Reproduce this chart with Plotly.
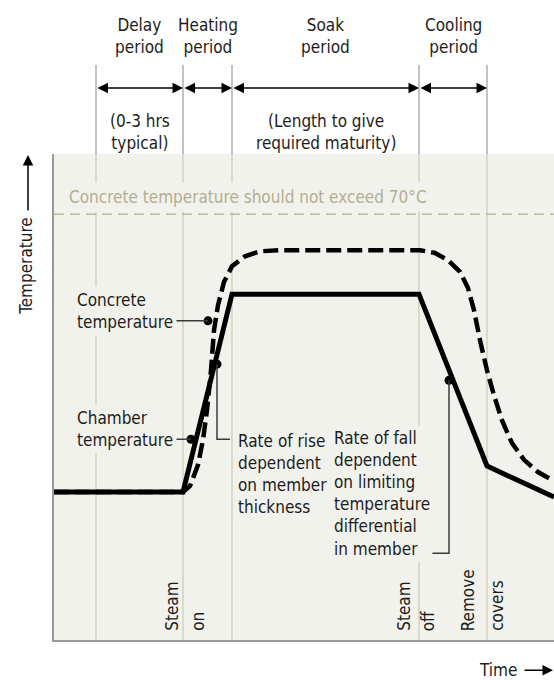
import plotly.graph_objects as go

# ---- data (time in arbitrary units, temperature in degC) ----
chamber_t = [0, 12.9, 17.8, 36.5, 43.3, 50]
chamber_T = [20, 20, 55.6, 55.6, 24.7, 19.1]

concrete_t = [0, 12.9, 13.6, 14.4, 14.9, 15.3, 15.7, 16.0, 16.4, 17.0, 17.8, 19.1, 20.6, 22.6,
              36.6, 38.1, 39.4, 40.6, 41.4, 42.0, 42.6, 43.3, 44.0, 44.8, 45.8, 47.0, 48.4, 50]
concrete_T = [20, 20, 21.1, 24.9, 29.4, 34.7, 41.9, 49.1, 53.6, 57.8, 60.6, 62.4, 63.3, 63.5,
              63.5, 63.0, 61.7, 59.6, 56.7, 52.7, 47.3, 41.9, 37.4, 32.9, 28.8, 25.8, 23.6, 22.0]

# period boundaries: start of delay, steam on, end of heating, steam off, remove covers
boundaries = [4.2, 12.9, 17.8, 36.5, 43.3]
period_names = ["Delay<br>period", "Heating<br>period", "Soak<br>period", "Cooling<br>period"]
period_notes = ["(0-3 hrs<br>typical)", "", "(Length to give<br>required maturity)", ""]

limit_T = 70
limit_label = "Concrete temperature should not exceed 70°C"

# callout points on the curves
callout_t = [15.4, 13.7, 16.3, 39.5]
callout_T = [50.8, 29.5, 43.0, 40.1]

FONT = "Liberation Sans Narrow, DejaVu Sans Condensed, Arial Narrow, sans-serif"
TXT = "#1c1c1c"
PANEL = "#f2f2ed"
GRID = "#cdc9b0"
TAN = "#b3ae92"
X0, X1 = 0, 50
Y0, Y1 = -6.6, 80.8

fig = go.Figure()

fig.add_trace(go.Scatter(x=concrete_t, y=concrete_T, mode="lines",
                         line=dict(color="black", width=4.5, dash="15px,6px"),
                         hoverinfo="skip", showlegend=False))
fig.add_trace(go.Scatter(x=chamber_t, y=chamber_T, mode="lines",
                         line=dict(color="black", width=5),
                         hoverinfo="skip", showlegend=False))

shapes = []
# vertical period lines inside the panel and above it
for b in boundaries:
    shapes.append(dict(type="line", xref="x", yref="paper", x0=b, x1=b, y0=0, y1=1,
                       line=dict(color=GRID, width=1.2), layer="below"))
    shapes.append(dict(type="line", xref="x", yref="paper", x0=b, x1=b, y0=1.0, y1=1.183,
                       line=dict(color="#9a9a9a", width=1.2)))
# temperature limit
shapes.append(dict(type="line", xref="x", yref="y", x0=X0, x1=X1, y0=limit_T, y1=limit_T,
                   line=dict(color=TAN, width=1.2, dash="10px,6px"), layer="below"))
# leader lines
LEAD = dict(color="#3a3a3a", width=1.5)
shapes.append(dict(type="line", xref="x", yref="y", x0=11.8, x1=callout_t[0], y0=callout_T[0], y1=callout_T[0], line=LEAD))
shapes.append(dict(type="line", xref="x", yref="y", x0=11.8, x1=callout_t[1], y0=callout_T[1], y1=callout_T[1], line=LEAD))
shapes.append(dict(type="path", xref="x", yref="y",
                   path=f"M{callout_t[2]},{callout_T[2]} L{callout_t[2]},29.5 L17.6,29.5", line=LEAD))
shapes.append(dict(type="path", xref="x", yref="y",
                   path=f"M{callout_t[3]},{callout_T[3]} L{callout_t[3]},9.0 L37.1,9.0", line=LEAD))

fig.add_trace(go.Scatter(x=callout_t, y=callout_T, mode="markers",
                         marker=dict(color="black", size=9), hoverinfo="skip", showlegend=False))

ann = []
font = dict(family=FONT, size=17, color=TXT)

# header: period names, double arrows and notes
for i, name in enumerate(period_names):
    xc = (boundaries[i] + boundaries[i + 1]) / 2
    ann.append(dict(text=name, x=xc, y=1.2418, xref="x", yref="paper", showarrow=False,
                    font=font, xanchor="center", yanchor="middle"))
    ann.append(dict(text="", x=boundaries[i + 1], y=1.136, xref="x", yref="paper",
                    ax=boundaries[i], ay=0, axref="x", ayref="pixel", showarrow=True,
                    arrowhead=2, arrowsize=1.4, arrowwidth=1.5, arrowside="end+start",
                    arrowcolor="black", standoff=0, startstandoff=0))
    if period_notes[i]:
        ann.append(dict(text=period_notes[i], x=xc, y=1.045, xref="x", yref="paper",
                        showarrow=False, font=font, xanchor="center", yanchor="middle"))

# limit label
ann.append(dict(text=limit_label, x=1.0, y=73.1, xref="x", yref="y", showarrow=False,
                font=dict(family=FONT, size=17, color=TAN), xanchor="left", yanchor="middle",
                bgcolor=PANEL, borderpad=4))

# curve labels
ann.append(dict(text="Concrete<br>temperature", x=1.9, y=52.6, xref="x", yref="y", showarrow=False,
                font=font, xanchor="left", yanchor="middle", align="left", bgcolor=PANEL, borderpad=3))
ann.append(dict(text="Chamber<br>temperature", x=1.9, y=31.3, xref="x", yref="y", showarrow=False,
                font=font, xanchor="left", yanchor="middle", align="left", bgcolor=PANEL, borderpad=3))
ann.append(dict(text="Rate of rise<br>dependent<br>on member<br>thickness", x=18.2, y=31.3,
                xref="x", yref="y", showarrow=False, font=font, xanchor="left", yanchor="top",
                align="left", bgcolor=PANEL, borderpad=1))
ann.append(dict(text="Rate of fall<br>dependent<br>on limiting<br>temperature<br>differential<br>in member",
                x=27.7, y=32.0, xref="x", yref="y", showarrow=False, font=font, xanchor="left",
                yanchor="top", align="left", bgcolor=PANEL, borderpad=2))

# event labels along the time axis
for word, xt in [("Steam", 11.8), ("on", 14.4), ("Steam", 35.0), ("off", 37.4),
                 ("Remove", 41.4), ("covers", 44.3)]:
    ann.append(dict(text=word, x=xt, y=-5.4, xref="x", yref="y", showarrow=False, font=font,
                    textangle=-90, xanchor="center", yanchor="bottom"))

# axis titles with arrows
ann.append(dict(text="Temperature", x=-0.056, y=0.770, xref="paper", yref="paper", showarrow=False,
                font=font, textangle=-90, xanchor="center", yanchor="middle"))
ann.append(dict(text="", x=-0.052, y=0.998, xref="paper", yref="paper", ax=0, ay=57,
                axref="pixel", ayref="pixel", showarrow=True, arrowhead=2, arrowsize=1.4,
                arrowwidth=1.5, arrowcolor="black", standoff=0))
ann.append(dict(text="Time", x=0.888, y=-0.062, xref="paper", yref="paper", showarrow=False,
                font=font, xanchor="center", yanchor="middle"))
ann.append(dict(text="", x=1.0, y=-0.062, xref="paper", yref="paper", ax=-31, ay=0,
                axref="pixel", ayref="pixel", showarrow=True, arrowhead=2, arrowsize=1.4,
                arrowwidth=1.5, arrowcolor="black", standoff=0))

axis_common = dict(showgrid=False, zeroline=False, showticklabels=False, ticks="",
                   showline=True, linecolor="#9a9a9a", linewidth=1.5, fixedrange=True)
fig.update_layout(
    width=554, height=680,
    margin=dict(l=54, r=0, t=154, b=40),
    paper_bgcolor="white", plot_bgcolor=PANEL,
    xaxis=dict(range=[X0, X1], **axis_common),
    yaxis=dict(range=[Y0, Y1], **axis_common),
    shapes=shapes, annotations=ann, showlegend=False,
)

fig.write_html("out.html")
